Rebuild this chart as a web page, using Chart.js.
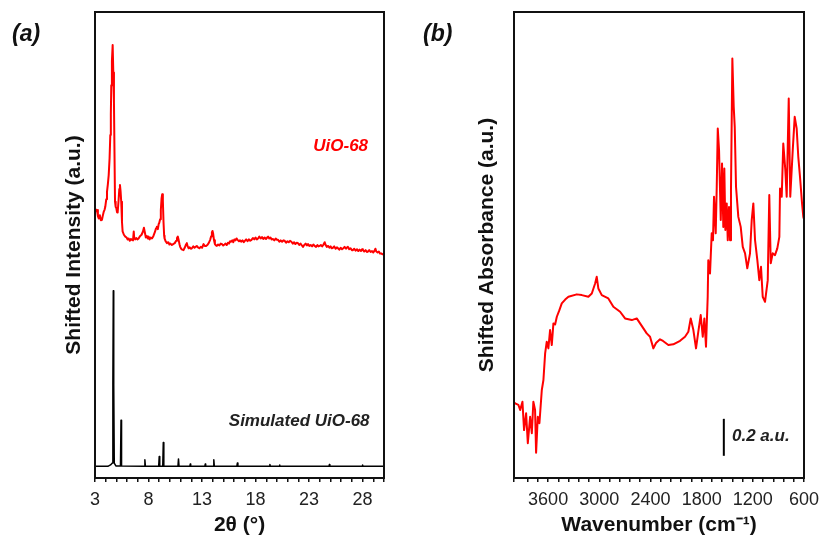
<!DOCTYPE html>
<html>
<head>
<meta charset="utf-8">
<script src="https://cdn.jsdelivr.net/npm/chart.js@4.4.1/dist/chart.umd.min.js"></script>
<style>
  html, body { margin: 0; padding: 0; background: #fff; }
  #wrap { position: relative; width: 820px; height: 541px; }
  canvas { position: absolute; top: 0; }
  #chartA { left: 0; }
  #chartB { left: 410px; }
  .panel { position: absolute; top: 22px; font: italic bold 23px Arial, "Liberation Sans", sans-serif; line-height: 23px; color: #111; }
</style>
</head>
<body>
<div id="wrap">
  <canvas id="chartA" width="410" height="541"></canvas>
  <canvas id="chartB" width="410" height="541"></canvas>
  <div class="panel" style="left:12px">(a)</div>
  <div class="panel" style="left:423px">(b)</div>
</div>
<script>
// (a) PXRD - measured UiO-68 (shifted up)
const xrdAngle = [
  3.00, 3.10, 3.19, 3.27, 3.35, 3.45, 3.55, 3.65, 3.73, 3.81,
  3.90, 3.96, 4.05, 4.12, 4.20, 4.28, 4.36, 4.43, 4.48, 4.52,
  4.58, 4.65, 4.71, 4.77, 4.82, 4.87, 4.93, 4.99, 5.06, 5.12,
  5.20, 5.27, 5.33, 5.39, 5.45, 5.52, 5.58, 5.70, 5.83, 5.95,
  6.05, 6.14, 6.25, 6.35, 6.45, 6.55, 6.62, 6.66, 6.75, 6.85,
  6.96, 7.07, 7.20, 7.35, 7.48, 7.57, 7.65, 7.75, 7.85, 7.95,
  8.01, 8.10, 8.20, 8.32, 8.45, 8.60, 8.70, 8.78, 8.87, 8.95,
  9.00, 9.08, 9.15, 9.22, 9.28, 9.34, 9.40, 9.46, 9.50, 9.60,
  9.72, 9.85, 9.95, 10.05, 10.18, 10.30, 10.45, 10.58, 10.66, 10.74,
  10.82, 10.90, 10.96, 11.05, 11.15, 11.27, 11.38, 11.48, 11.58, 11.66,
  11.75, 11.85, 11.95, 12.05, 12.18, 12.30, 12.40, 12.51, 12.62, 12.75,
  12.88, 13.00, 13.14, 13.25, 13.38, 13.50, 13.62, 13.76, 13.85, 13.92,
  13.98, 14.04, 14.12, 14.20, 14.30, 14.38, 14.50, 14.62, 14.75, 14.85,
  14.98, 15.10, 15.20, 15.31, 15.42, 15.52, 15.62, 15.72, 15.82, 15.92,
  16.02, 16.12, 16.22, 16.32, 16.45, 16.55, 16.65, 16.78, 16.90, 17.00,
  17.12, 17.25, 17.38, 17.50, 17.62, 17.75, 17.88, 18.00, 18.12, 18.23,
  18.35, 18.48, 18.60, 18.72, 18.85, 18.98, 19.08, 19.17, 19.28, 19.40,
  19.50, 19.62, 19.75, 19.88, 20.00, 20.10, 20.22, 20.35, 20.48, 20.60,
  20.72, 20.85, 20.98, 21.10, 21.22, 21.35, 21.48, 21.60, 21.72, 21.85,
  21.96, 22.08, 22.20, 22.30, 22.43, 22.55, 22.68, 22.80, 22.90, 23.02,
  23.15, 23.28, 23.40, 23.52, 23.65, 23.78, 23.88, 23.99, 24.10, 24.22,
  24.35, 24.46, 24.55, 24.65, 24.78, 24.90, 25.02, 25.12, 25.23, 25.35,
  25.48, 25.60, 25.70, 25.82, 25.95, 26.08, 26.20, 26.32, 26.45, 26.55,
  26.63, 26.75, 26.88, 27.00, 27.10, 27.22, 27.35, 27.48, 27.60, 27.72,
  27.85, 27.95, 28.03, 28.15, 28.28, 28.40, 28.50, 28.62, 28.75, 28.88,
  29.00, 29.12, 29.20, 29.28, 29.40, 29.52, 29.62, 29.74, 29.85, 30.00
];
const xrdIntensity = [
  57.0, 57.6, 57.5, 56.2, 55.7, 56.4, 55.3, 55.4, 56.3, 57.1,
  57.6, 58.2, 59.8, 61.4, 63.0, 65.0, 68.5, 73.6, 78.0, 84.3,
  89.5, 92.9, 87.0, 80.8, 70.0, 59.3, 58.2, 57.9, 57.0, 57.1,
  59.5, 62.0, 62.9, 61.5, 59.3, 55.0, 52.9, 52.2, 51.8, 51.6,
  51.2, 51.4, 50.9, 51.3, 51.1, 51.0, 52.9, 51.6, 51.2, 51.5,
  51.2, 51.4, 51.9, 52.2, 52.9, 53.7, 52.8, 51.6, 51.9, 51.4,
  51.8, 51.2, 51.6, 51.4, 51.9, 52.8, 53.6, 53.9, 53.4, 54.5,
  54.7, 55.5, 57.5, 60.0, 60.9, 59.5, 55.0, 52.0, 51.4, 50.8,
  50.4, 50.6, 50.1, 50.3, 50.0, 50.2, 50.4, 50.9, 51.5, 51.8,
  51.0, 50.1, 49.6, 49.2, 49.0, 48.9, 49.4, 50.0, 50.4, 49.7,
  49.3, 49.5, 49.2, 49.3, 49.7, 49.4, 49.6, 49.8, 49.5, 49.3,
  49.6, 49.4, 50.2, 49.8, 49.8, 50.0, 50.4, 51.1, 51.9, 52.7,
  53.0, 52.4, 51.0, 50.2, 49.9, 49.8, 50.1, 49.9, 50.3, 50.2,
  49.9, 50.1, 50.3, 50.0, 50.5, 50.3, 50.8, 50.7, 51.0, 50.6,
  51.2, 51.0, 51.4, 51.1, 50.8, 51.0, 50.7, 51.0, 50.6, 50.9,
  51.2, 50.8, 51.2, 50.9, 51.1, 51.5, 51.2, 51.6, 51.2, 51.4,
  51.8, 51.4, 51.7, 51.3, 51.6, 51.3, 51.6, 51.8, 51.4, 51.6,
  51.2, 51.3, 51.0, 51.4, 51.1, 51.1, 50.7, 51.0, 50.7, 51.0,
  50.9, 50.5, 50.8, 50.6, 50.9, 50.7, 50.3, 50.6, 50.2, 50.5,
  50.4, 50.0, 50.3, 50.0, 49.6, 50.0, 50.3, 49.9, 50.2, 49.8,
  50.0, 49.7, 50.1, 49.8, 49.6, 50.0, 49.7, 49.8, 50.0, 49.7,
  50.1, 50.6, 50.0, 49.6, 49.8, 49.4, 49.7, 49.3, 49.4, 49.7,
  49.2, 49.5, 49.3, 49.0, 49.4, 49.1, 49.3, 49.6, 49.2, 49.5,
  49.6, 49.1, 49.3, 48.9, 48.9, 49.2, 48.8, 49.1, 48.7, 49.0,
  48.7, 49.1, 48.9, 48.6, 48.9, 48.5, 48.6, 48.9, 48.5, 48.7,
  48.4, 48.8, 49.2, 48.6, 48.4, 48.6, 48.2, 48.2, 48.0, 48.1
];

// (a) simulated pattern
const simAngle = [
  3.00, 4.20, 4.45, 4.62, 4.67, 4.71, 4.75, 4.80, 4.95, 5.38,
  5.43, 5.48, 7.61, 7.66, 7.71, 8.95, 9.00, 9.05, 9.33, 9.38,
  9.43, 10.75, 10.80, 10.85, 11.86, 11.90, 11.94, 13.26, 13.30, 13.34,
  14.05, 14.10, 14.15, 16.25, 16.30, 16.35, 19.30, 19.34, 19.38, 20.20,
  20.24, 20.28, 24.86, 24.90, 24.94, 27.96, 28.00, 28.04, 30.00
];
const simIntensity = [
  2.5, 2.5, 2.8, 3.2, 20.0, 40.2, 20.0, 3.2, 2.6, 2.6,
  12.4, 2.6, 2.5, 3.9, 2.5, 2.5, 4.6, 2.5, 2.5, 7.6,
  2.5, 2.5, 4.1, 2.5, 2.5, 3.0, 2.5, 2.5, 3.0, 2.5,
  2.5, 3.9, 2.5, 2.5, 3.2, 2.5, 2.5, 2.9, 2.5, 2.5,
  2.8, 2.5, 2.5, 2.9, 2.5, 2.5, 2.8, 2.5, 2.5
];
const xrdTickLabels = [3, 8, 13, 18, 23, 28];

// (b) FTIR
const irWavenumber = [
  4000, 3987, 3948, 3928, 3901, 3882, 3858, 3838, 3811, 3791,
  3773, 3753, 3741, 3721, 3702, 3674, 3655, 3635, 3616, 3597,
  3577, 3557, 3538, 3518, 3498, 3470, 3440, 3400, 3362, 3264,
  3205, 3128, 3088, 3049, 3030, 3011, 2971, 2894, 2835, 2756,
  2698, 2619, 2561, 2522, 2444, 2405, 2366, 2335, 2288, 2253,
  2190, 2132, 2053, 1995, 1956, 1928, 1897, 1866, 1839, 1811,
  1787, 1768, 1749, 1729, 1722, 1702, 1682, 1667, 1655, 1635,
  1623, 1611, 1596, 1576, 1561, 1546, 1534, 1522, 1506, 1494,
  1479, 1467, 1456, 1440, 1424, 1412, 1397, 1370, 1342, 1318,
  1291, 1265, 1233, 1213, 1194, 1174, 1147, 1124, 1104, 1084,
  1057, 1025, 1007, 990, 967, 940, 913, 889, 881, 861,
  843, 819, 803, 779, 761, 732, 709, 686, 667, 647,
  623, 608, 600
];
const irAbsorbance = [
  0.410, 0.404, 0.395, 0.368, 0.412, 0.259, 0.350, 0.188, 0.331, 0.242,
  0.412, 0.368, 0.137, 0.331, 0.296, 0.476, 0.530, 0.674, 0.737, 0.701,
  0.800, 0.719, 0.836, 0.830, 0.872, 0.905, 0.944, 0.965, 0.980, 0.993,
  0.989, 0.980, 0.998, 1.052, 1.088, 1.025, 0.989, 0.971, 0.926, 0.899,
  0.863, 0.854, 0.863, 0.836, 0.782, 0.764, 0.701, 0.730, 0.750, 0.741,
  0.719, 0.723, 0.742, 0.764, 0.791, 0.863, 0.800, 0.701, 0.791, 0.881,
  0.764, 0.863, 0.710, 0.980, 1.178, 1.106, 1.323, 1.286, 1.521, 1.323,
  1.575, 1.890, 1.773, 1.395, 1.701, 1.358, 1.674, 1.341, 1.485, 1.286,
  1.466, 1.286, 1.557, 2.269, 2.007, 1.899, 1.575, 1.412, 1.358, 1.250,
  1.215, 1.134, 1.215, 1.395, 1.485, 1.286, 1.178, 1.070, 1.142, 0.980,
  0.953, 1.070, 1.530, 1.161, 1.215, 1.205, 1.242, 1.304, 1.566, 1.521,
  1.809, 1.665, 1.521, 2.052, 1.521, 1.773, 1.953, 1.890, 1.737, 1.629,
  1.485, 1.412, 1.400
];
const irTickLabels = [3600, 3000, 2400, 1800, 1200, 600];
// 0.2 a.u. scale bar
const barWavenumber = [1540, 1540];
const barAbsorbance = [0.12, 0.32];

const FONT = 'Arial, "Liberation Sans", sans-serif';
const toXY = (xs, ys) => xs.map((x, i) => ({ x: x, y: ys[i] }));

// box round the plot area + in-plot labels
const frameNotes = {
  id: 'frameNotes',
  afterDatasetsDraw(chart, args, opts) {
    const { ctx, chartArea: a, scales } = chart;
    ctx.save();
    ctx.strokeStyle = '#111';
    ctx.lineWidth = 2;
    ctx.strokeRect(a.left, a.top, a.right - a.left, a.bottom - a.top);
    (opts.notes || []).forEach(n => {
      ctx.font = 'italic bold 17px ' + FONT;
      ctx.fillStyle = n.color;
      ctx.textAlign = n.align;
      ctx.textBaseline = 'middle';
      ctx.fillText(n.text, scales.x.getPixelForValue(n.x), scales.y.getPixelForValue(n.y));
    });
    ctx.restore();
  }
};

function xAxis(opts) {
  return Object.assign({
    type: 'linear',
    border: { display: false },
    grid: { drawOnChartArea: false, drawTicks: true, tickLength: 4, color: '#111', lineWidth: 1.5 },
    ticks: {
      autoSkip: false, maxRotation: 0, padding: 7, color: '#222',
      font: { size: 18, family: FONT }
    },
    title: { display: true, color: '#111', font: { size: 21, weight: 'bold', family: FONT }, padding: { top: 0, bottom: 3 } },
    afterFit: s => { s.height = 63; s.paddingLeft = 0; s.paddingRight = 0; }
  }, opts);
}

function yAxis(max, text, width, pad) {
  return {
    min: 0, max: max,
    border: { display: false },
    grid: { display: false },
    ticks: { display: false },
    title: { display: true, text: text, color: '#111', font: { size: 21, weight: 'bold', family: FONT }, padding: { top: pad, bottom: 0 } },
    afterFit: s => { s.width = width; s.paddingTop = 0; s.paddingBottom = 0; }
  };
}

new Chart(document.getElementById('chartA'), {
  type: 'line',
  data: {
    datasets: [
      { data: toXY(xrdAngle, xrdIntensity), borderColor: '#ff0000', borderWidth: 2, borderJoinStyle: 'round', pointRadius: 0 },
      { data: toXY(simAngle, simIntensity), borderColor: '#000', borderWidth: 1.5, borderJoinStyle: 'round', pointRadius: 0 }
    ]
  },
  options: {
    responsive: false,
    animation: false,
    layout: { padding: { top: 12, right: 26, bottom: 0, left: 0 } },
    plugins: {
      legend: { display: false },
      tooltip: { enabled: false },
      frameNotes: {
        notes: [
          { text: 'UiO-68', x: 25.95, y: 71.1, color: '#ff0000', align: 'center' },
          { text: 'Simulated UiO-68', x: 28.65, y: 12.2, color: '#222', align: 'right' }
        ]
      }
    },
    scales: {
      x: xAxis({
        min: 3, max: 30,
        ticks: Object.assign(xAxis({}).ticks, { stepSize: 1, callback: v => xrdTickLabels.includes(v) ? String(v) : '' }),
        title: Object.assign(xAxis({}).title, { text: '2θ (°)' })
      }),
      y: yAxis(100, 'Shifted Intensity (a.u.)', 95, 62)
    }
  },
  plugins: [frameNotes]
});

new Chart(document.getElementById('chartB'), {
  type: 'line',
  data: {
    datasets: [
      { data: toXY(irWavenumber, irAbsorbance), borderColor: '#ff0000', borderWidth: 2, borderJoinStyle: 'round', pointRadius: 0 },
      { data: toXY(barWavenumber, barAbsorbance), borderColor: '#000', borderWidth: 2, pointRadius: 0 }
    ]
  },
  options: {
    responsive: false,
    animation: false,
    layout: { padding: { top: 12, right: 16, bottom: 0, left: 0 } },
    plugins: {
      legend: { display: false },
      tooltip: { enabled: false },
      frameNotes: {
        notes: [
          { text: '0.2 a.u.', x: 1444, y: 0.223, color: '#222', align: 'left' }
        ]
      }
    },
    scales: {
      x: xAxis({
        min: 600, max: 4000, reverse: true,
        ticks: Object.assign(xAxis({}).ticks, { stepSize: 120, callback: v => irTickLabels.includes(v) ? String(v) : '' }),
        title: Object.assign(xAxis({}).title, { text: 'Wavenumber (cm⁻¹)' })
      }),
      y: yAxis(2.52, 'Shifted Absorbance (a.u.)', 104, 65)
    }
  },
  plugins: [frameNotes]
});
</script>
</body>
</html>
